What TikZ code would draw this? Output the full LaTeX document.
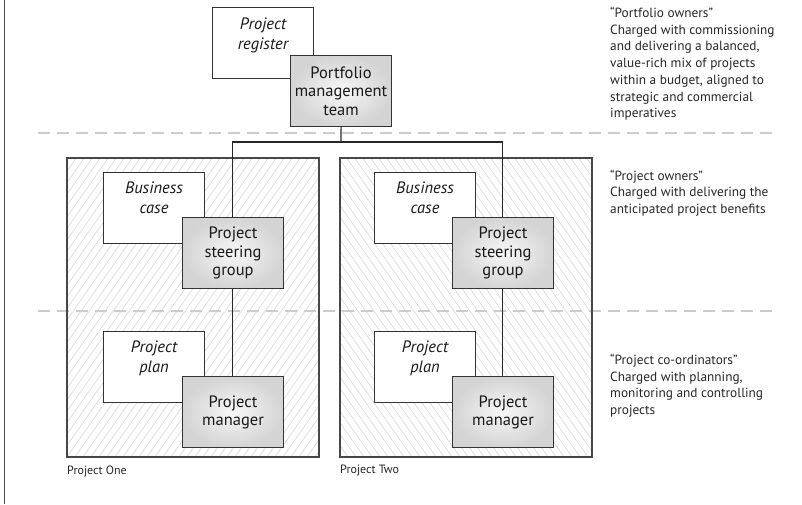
\documentclass[tikz,border=0pt]{standalone}
\usepackage{fontspec}
\setmainfont{PT Sans}
\begin{document}
\begin{tikzpicture}[x=1pt,y=-1pt,
  hatch/.style={draw=black!17, line width=0.55pt},
  frame/.style={draw=black!72, line width=1.3pt},
  sep/.style={draw=black!20, line width=2.6pt, dash pattern=on 12pt off 7pt},
  conn/.style={draw=black!85, line width=1.1pt},
  backbox/.style={draw=black!80, fill=white, line width=1.1pt, minimum width=101pt, minimum height=71pt, anchor=north west, inner sep=0pt},
  frontbox/.style={draw=black!80, line width=1.1pt, inner color=black!3, outer color=black!17, minimum width=101pt, minimum height=71pt, anchor=north west, inner sep=0pt, align=center, font=\fontsize{16.5}{18.3}\selectfont, text=black!90},
  backtext/.style={anchor=north, inner sep=0pt, align=center, font=\fontsize{16.5}{19.5}\selectfont\itshape, text=black!90},
  side/.style={anchor=north west, inner sep=0pt, align=left, font=\fontsize{13.3}{16.7}\selectfont, text=black!85},
  caption/.style={anchor=west, inner sep=0pt, font=\fontsize{12}{14}\selectfont, text=black!85}
]
\useasboundingbox (0,0) rectangle (802,504);
\draw[draw=black!70, line width=1.2pt] (4.5,0) -- (4.5,504);

% hatching
\begin{scope}
  \clip (67,158) rectangle (319,457);
  \foreach \i in {-240,-232,...,260} \draw[hatch] (67+\i,457) -- ++(210,-300);
\end{scope}
\begin{scope}
  \clip (340,158) rectangle (592,457);
  \foreach \i in {0,8,...,480} \draw[hatch] (340+\i,457) -- ++(-210,-300);
\end{scope}

% separators
\draw[sep] (38,133) -- (775,133);
\draw[sep] (38,311) -- (775,311);

% frames
\draw[frame] (67,158) rectangle (319,457);
\draw[frame] (340,158) rectangle (592,457);
\node[caption] (p1) at (67,471) {Project One};
\node[caption] (p2) at (340,471) {Project Two};

% top level
\node[backbox] (reg) at (212,7) {};
\node[backtext] (regt) at ([yshift=-11pt]reg.north) {Project\\register};
\node[frontbox] (pmt) at (290,55) {Portfolio\\management\\team};

% project one
\node[backbox] (bc1) at (103,172) {};
\node[backtext] (bc1t) at ([yshift=-10pt]bc1.north) {Business\\case};
\node[backbox] (pp1) at (103,331) {};
\node[backtext] (pp1t) at ([yshift=-10pt]pp1.north) {Project\\plan};

% project two
\node[backbox] (bc2) at (374,172) {};
\node[backtext] (bc2t) at ([yshift=-10pt]bc2.north) {Business\\case};
\node[backbox] (pp2) at (374,331) {};
\node[backtext] (pp2t) at ([yshift=-10pt]pp2.north) {Project\\plan};

% connectors
\coordinate (j) at (341,142);
\draw[conn] (pmt.south) -- (j);
\draw[conn] (232.5,217) -- (232.5,142) -- (502.5,142) -- (502.5,217);
\draw[conn] (232.5,288) -- (232.5,376);
\draw[conn] (502.5,288) -- (502.5,376);

\node[frontbox] (sg1) at (182,217) {Project\\steering\\group};
\node[frontbox] (pm1) at (182,376) {Project\\manager};
\node[frontbox] (sg2) at (452,217) {Project\\steering\\group};
\node[frontbox] (pm2) at (452,376) {Project\\manager};

% side texts
\node[side] (t1) at (610,7) {“Portfolio owners”\\Charged with commissioning\\and delivering a balanced,\\value-rich mix of projects\\within a budget, aligned to\\strategic and commercial\\imperatives};
\node[side] (t2) at (610,169.5) {“Project owners”\\Charged with delivering the\\anticipated project benefits};
\node[side] (t3) at (610,354) {“Project co-ordinators”\\Charged with planning,\\monitoring and controlling\\projects};
\end{tikzpicture}
\end{document}
